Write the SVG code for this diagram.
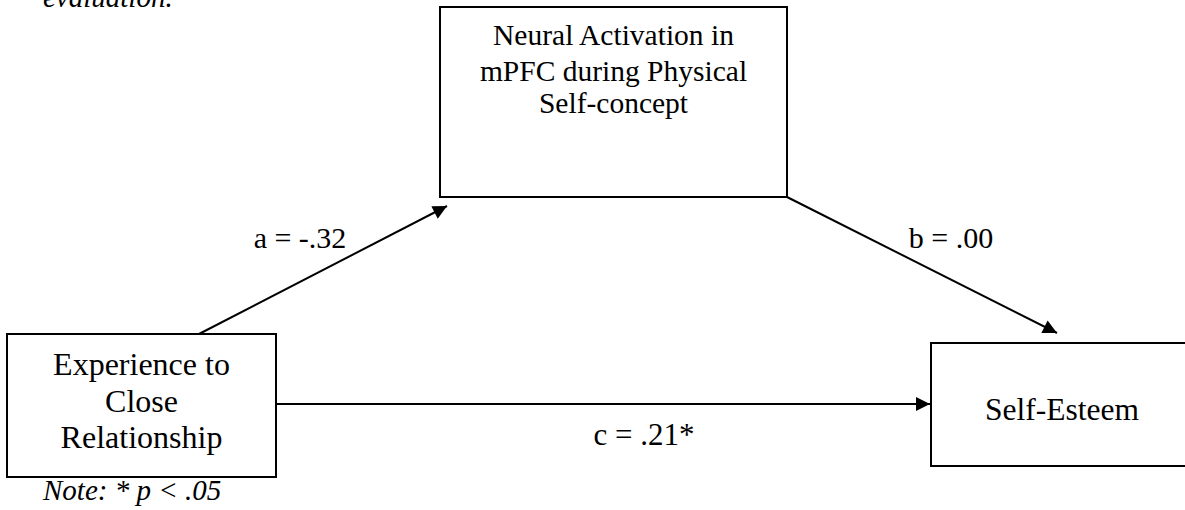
<svg xmlns="http://www.w3.org/2000/svg" width="1185" height="510" viewBox="0 0 1185 510">
<style>
.box{fill:#fff;stroke:#000;stroke-width:2}
.t{font-family:"Liberation Serif","Times New Roman",serif;fill:#000;text-anchor:middle}
.it{font-family:"Liberation Serif","Times New Roman",serif;font-style:italic;fill:#000}
.conn{stroke:#000;stroke-width:2;fill:none}
</style>
<defs>
<marker id="ah" viewBox="0 0 10 10" refX="10" refY="5" markerWidth="8" markerHeight="7" markerUnits="strokeWidth" orient="auto">
<path d="M0,0 L10,5 L0,10 Z" fill="#000"/>
</marker>
</defs>
<text class="it" x="43" y="7" font-size="29">evaluation.</text>
<g id="connectors">
<line class="conn" x1="199" y1="334" x2="447" y2="206" marker-end="url(#ah)"/>
<line class="conn" x1="787" y1="197" x2="1057" y2="333" marker-end="url(#ah)"/>
<line class="conn" x1="276" y1="404" x2="930" y2="404" marker-end="url(#ah)"/>
<text class="t" x="300" y="248" font-size="30">a = -.32</text>
<text class="t" x="951" y="248" font-size="30">b = .00</text>
<text class="t" x="644" y="445" font-size="31">c = .21*</text>
</g>
<g id="mediator">
<rect class="box" x="440" y="7" width="347" height="190"/>
<text class="t" x="613.5" y="45" font-size="29.5">Neural Activation in</text>
<text class="t" x="613.5" y="81" font-size="29.5">mPFC during Physical</text>
<text class="t" x="613.5" y="113" font-size="29.5">Self-concept</text>
</g>
<g id="predictor">
<rect class="box" x="7" y="334" width="269" height="143"/>
<text class="t" x="141.5" y="375" font-size="32">Experience to</text>
<text class="t" x="141.5" y="412" font-size="32">Close</text>
<text class="t" x="141.5" y="448" font-size="32">Relationship</text>
</g>
<g id="outcome">
<rect class="box" x="931" y="343" width="260" height="123"/>
<text class="t" x="1062" y="420" font-size="31.5">Self-Esteem</text>
</g>
<text class="it" x="43" y="500" font-size="29">Note: * p &lt; .05</text>
</svg>
